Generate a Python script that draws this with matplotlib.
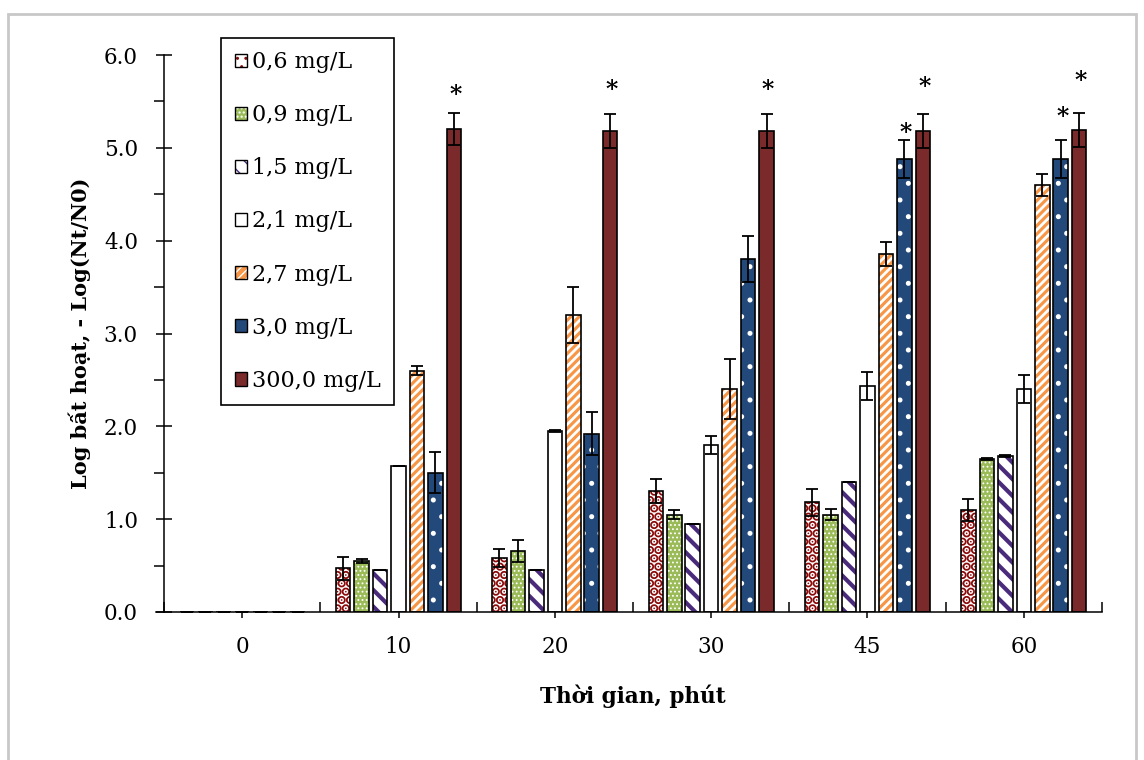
import numpy as np
import matplotlib
matplotlib.use("Agg")
import matplotlib.pyplot as plt
from matplotlib.patches import Rectangle, Patch
from matplotlib.legend_handler import HandlerTuple
from matplotlib.lines import Line2D

# data
times = ["0", "10", "20", "30", "45", "60"]
series = ["0,6 mg/L", "0,9 mg/L", "1,5 mg/L", "2,1 mg/L", "2,7 mg/L", "3,0 mg/L", "300,0 mg/L"]

values = [
    [0, 0.47, 0.58, 1.30, 1.18, 1.10],   # 0,6
    [0, 0.55, 0.66, 1.05, 1.05, 1.65],   # 0,9
    [0, 0.45, 0.45, 0.95, 1.40, 1.68],   # 1,5
    [0, 1.57, 1.95, 1.80, 2.43, 2.40],   # 2,1
    [0, 2.60, 3.20, 2.40, 3.86, 4.60],   # 2,7
    [0, 1.50, 1.92, 3.80, 4.88, 4.88],   # 3,0
    [0, 5.20, 5.18, 5.18, 5.18, 5.19],   # 300,0
]
errors = [
    [0, 0.12, 0.10, 0.13, 0.15, 0.12],
    [0, 0.02, 0.12, 0.05, 0.06, 0.01],
    [0, 0.00, 0.00, 0.00, 0.00, 0.01],
    [0, 0.00, 0.01, 0.10, 0.15, 0.15],
    [0, 0.05, 0.30, 0.32, 0.13, 0.12],
    [0, 0.22, 0.23, 0.25, 0.20, 0.20],
    [0, 0.17, 0.18, 0.18, 0.18, 0.18],
]
# significance marks: (time index, series index, y)
stars = [(1, 6, 5.57), (2, 6, 5.62), (3, 6, 5.62), (4, 6, 5.66), (4, 5, 5.16),
         (5, 6, 5.72), (5, 5, 5.33)]

# style per series: face, hatch, hatch colour, hatch linewidth
styles = [
    ("white", "..", "#8B0A0A", 4.6),
    ("#9BBB59", "....", "white", 0.8),
    ("white", "\\\\", "#4A2A7A", 3.0),
    ("white", "", "black", 1.0),
    ("#F79646", "////", "white", 2.0),
    ("#23497A", ".", "white", 1.2),
    ("#7A2A2A", "", "black", 1.0),
]

plt.rcParams['font.family'] = ['DejaVu Serif']

fig = plt.figure(figsize=(11.44, 7.6), dpi=100)
ax = fig.add_axes([164 / 1144, 148 / 760, 938 / 1144, 557 / 760])

x = np.arange(len(times))
pitch = 0.118
width = 0.093
handles = []
for i, name in enumerate(series):
    face, hatch, hcol, hlw = styles[i]
    pos = x + (i - 3) * pitch
    with plt.rc_context({'hatch.linewidth': hlw}):
        ax.bar(pos, values[i], width, color=face, edgecolor=hcol,
               hatch=hatch, linewidth=0, zorder=2)
    ax.bar(pos, values[i], width, fill=False, edgecolor="black", linewidth=1.2,
           yerr=errors[i], capsize=4.3,
           error_kw=dict(elinewidth=1.3, capthick=1.3, ecolor="black"), zorder=3)
    with plt.rc_context({'hatch.linewidth': hlw}):
        h1 = Patch(facecolor=face, edgecolor=hcol, hatch=hatch, linewidth=0)
    h2 = Patch(facecolor="none", edgecolor="black", linewidth=1.0)
    handles.append((h1, h2))

for t, s, y in stars:
    ax.text(x[t] + (s - 3) * pitch + 0.01, y, "*", ha="center", va="center",
            fontsize=17, fontweight="bold", zorder=4)

ax.set_xlim(-0.5, len(times) - 0.5)
ax.set_ylim(0, 6)
ax.set_xticks(x)
ax.set_xticklabels(times)
ax.set_xticks(np.arange(-0.5, len(times)), minor=True)
ax.set_yticks(np.arange(0, 6.1, 1))
ax.set_yticklabels([f"{v:.1f}" for v in np.arange(0, 6.1, 1)])
ax.set_yticks(np.arange(0.5, 6, 1), minor=True)

ax.tick_params(axis="x", which="major", direction="out", length=4.3, width=1.1,
               labelsize=15.5, pad=13)
ax.tick_params(axis="x", which="minor", direction="in", length=7.2, width=1.1)
ax.tick_params(axis="y", which="major", direction="inout", length=11.5, width=1.1,
               labelsize=15.5, pad=13)
ax.tick_params(axis="y", which="minor", direction="out", length=7, width=1.1)

for side in ["top", "right"]:
    ax.spines[side].set_visible(False)
for side in ["left", "bottom"]:
    ax.spines[side].set_linewidth(1.1)
ax.add_line(Line2D([-0.008, 0], [0, 0], transform=ax.transAxes, color="black",
                   lw=1.1, clip_on=False))

ax.set_xlabel("Thời gian, phút", fontsize=15.5, fontweight="bold", labelpad=19)
ax.set_ylabel("Log bất hoạt, - Log(Nt/N0)", fontsize=15, fontweight="bold", labelpad=9)

leg = ax.legend(handles, series, handler_map={tuple: HandlerTuple(ndivide=1)},
                loc="upper left", bbox_to_anchor=(0.061, 1.031), fontsize=16,
                frameon=True, fancybox=False, edgecolor="black", framealpha=1,
                handlelength=0.55, handleheight=0.55, handletextpad=0.25,
                labelspacing=1.4, borderpad=0.6, borderaxespad=0)
leg.get_frame().set_linewidth(1.2)

fig.patches.append(Rectangle((8 / 1144, -0.02), 1128 / 1144, 1.02 - 14 / 760,
                             transform=fig.transFigure, fill=False,
                             edgecolor="#c8c8c8", linewidth=2))

fig.savefig("out.png", dpi=100)
